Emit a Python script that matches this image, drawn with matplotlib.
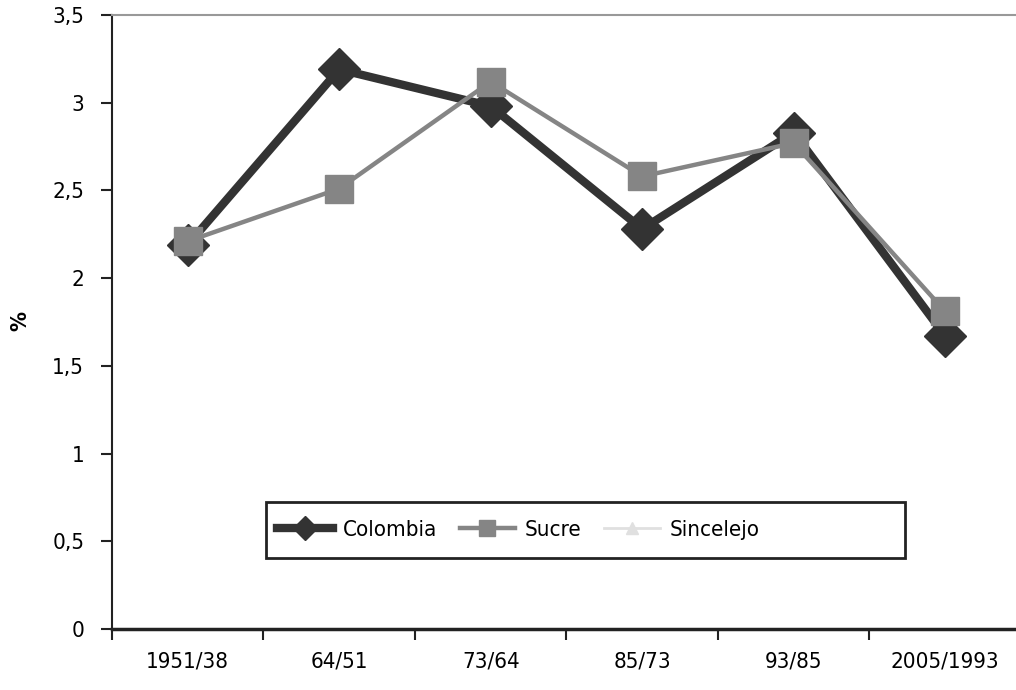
import numpy as np
import matplotlib
matplotlib.use('Agg')
import matplotlib.pyplot as plt
from matplotlib.patches import Rectangle

plt.rcParams['font.family'] = ['DejaVu Sans']
plt.rcParams['font.stretch'] = 'condensed'

periods = ['1951/38', '64/51', '73/64', '85/73', '93/85', '2005/1993']
colombia = [2.19, 3.19, 2.98, 2.28, 2.83, 1.67]
sucre = [2.21, 2.51, 3.12, 2.58, 2.77, 1.81]
sincelejo = [np.nan] * 6  # not visible in the chart, only in the legend
yticks = [0, 0.5, 1, 1.5, 2, 2.5, 3, 3.5]
ylabels = ['0', '0,5', '1', '1,5', '2', '2,5', '3', '3,5']

fig = plt.figure(figsize=(10.16, 6.9), dpi=100)
ax = fig.add_axes([0.1102, 0.0884, 0.8947, 0.8899])

x = np.arange(len(periods))
ax.plot(x, sincelejo, color='#e0e0e0', lw=2, marker='^', ms=14, label='Sincelejo')
ax.plot(x, colombia, color='#333333', lw=6, marker='D', ms=21, label='Colombia', zorder=3)
ax.plot(x, sucre, color='#858585', lw=3.2, marker='s', ms=20, mec='#858585', label='Sucre', zorder=4)

ax.set_xlim(-0.5, len(periods) - 0.5)
ax.set_ylim(0, 3.5)
ax.set_yticks(yticks)
ax.set_yticklabels(ylabels, fontsize=16)
ax.set_xticks(x - 0.5)
ax.set_xticklabels([])
ax.set_xticks(x, minor=True)
ax.set_xticklabels(periods, minor=True, fontsize=16)
ax.tick_params(axis='x', which='minor', length=0, pad=16)
ax.tick_params(axis='x', which='major', length=8, width=1.5, color='#222222')
ax.tick_params(axis='y', length=8, width=1.5, color='#222222', pad=12)

ax.spines['right'].set_visible(False)
ax.spines['top'].set_color('#999999')
ax.spines['top'].set_linewidth(1.5)
ax.spines['left'].set_linewidth(1.5)
ax.spines['left'].set_color('#222222')
ax.spines['bottom'].set_linewidth(2.5)
ax.spines['bottom'].set_color('#222222')

fig.text(0.02, 0.535, '%', fontsize=16, fontweight='bold', rotation=90,
         ha='center', va='center')

# legend box drawn separately, legend entries packed to the left inside it
ax.add_patch(Rectangle((0.169, 0.116), 0.703, 0.091, transform=ax.transAxes,
                       fill=False, edgecolor='#222222', lw=2, zorder=5))
h, l = ax.get_legend_handles_labels()
order = [1, 2, 0]
leg = ax.legend([h[i] for i in order], [l[i] for i in order], ncol=3,
                loc='center left', bbox_to_anchor=(0.182, 0.1615),
                fontsize=16, frameon=False, handlelength=2.5, handletextpad=0.45,
                columnspacing=1.0, markerscale=0.6, borderpad=0, borderaxespad=0)

fig.savefig('out.png', dpi=100)
